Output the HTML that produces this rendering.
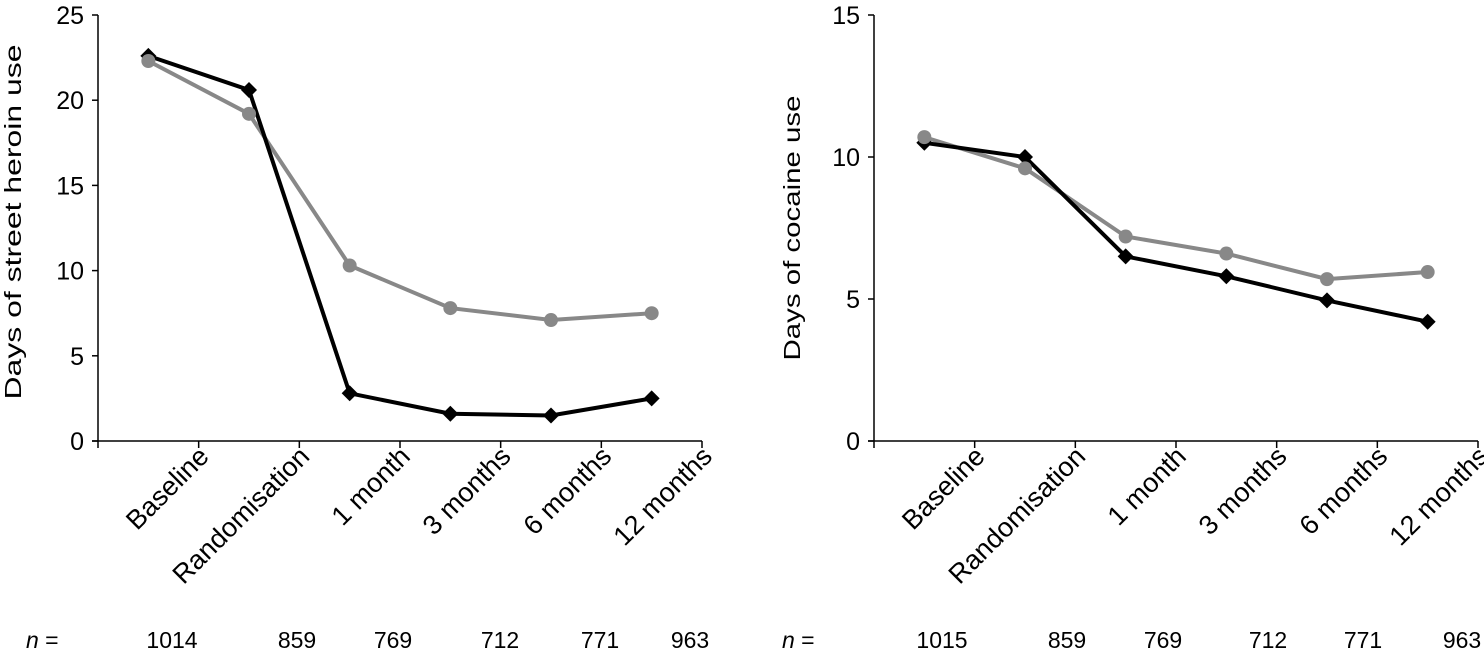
<!DOCTYPE html>
<html><head><meta charset="utf-8"><style>
body{margin:0;background:#fff}
svg text{font-family:"Liberation Sans",sans-serif;fill:#000}
</style></head><body>
<svg id="c" width="1484" height="655" xmlns="http://www.w3.org/2000/svg"></svg>
<script>
const categories=["Baseline","Randomisation","1 month","3 months","6 months","12 months"];
const heroinBlack=[22.6,20.6,2.8,1.6,1.5,2.5];
const heroinGrey=[22.3,19.2,10.3,7.8,7.1,7.5];
const cocaineBlack=[10.5,10.0,6.5,5.8,4.95,4.2];
const cocaineGrey=[10.7,9.6,7.2,6.6,5.7,5.95];
const heroinTicks=[0,5,10,15,20,25];
const cocaineTicks=[0,5,10,15];
const heroinN=["1014","859","769","712","771","963"];
const cocaineN=["1015","859","769","712","771","963"];
const svg=document.getElementById('c');
const NS="http://www.w3.org/2000/svg";
function mk(t,a,p){const e=document.createElementNS(NS,t);for(const k in a)e.setAttribute(k,a[k]);(p||svg).appendChild(e);return e;}
function panel(o){
  const g=mk('g',{});
  
  
  const step=(o.x1-o.x0)/categories.length;
  const xs=i=>o.x0+step*(i+0.5);
  const ys=v=>o.yb-(v/o.max)*(o.yb-o.yt);
  const ya=mk('line',{x1:o.x0,y1:o.yt,x2:o.x0,y2:o.yb,stroke:'#000','stroke-width':1.5},g);
  
  const xa=mk('line',{x1:o.x0-6,y1:o.yb,x2:o.x1,y2:o.yb,stroke:'#000','stroke-width':1.5},g);
  
  o.ticks.forEach(v=>{
    mk('line',{x1:o.x0-6,y1:ys(v),x2:o.x0,y2:ys(v),stroke:'#000','stroke-width':1.5},g);
    const t=mk('text',{x:o.x0-14,y:ys(v)+9,'text-anchor':'end','font-size':25},g);
    t.textContent=v;
    
  });
  for(let i=0;i<=categories.length;i++){
    mk('line',{x1:o.x0+step*i,y1:o.yb,x2:o.x0+step*i,y2:o.yb+7,stroke:'#000','stroke-width':1.5},g);
  }
  categories.forEach((c,i)=>{
    const x=xs(i)+62,y=458;
    const t=mk('text',{x:x,y:y,'text-anchor':'end','font-size':27,transform:`rotate(-45 ${x} ${y})`},g);
    t.textContent=c;
    
  });
  const cy=o.titleY;
  const yt=mk('text',{x:o.titleX,y:cy,'text-anchor':'middle','font-size':23,textLength:o.titleLen,lengthAdjust:'spacingAndGlyphs',transform:`rotate(-90 ${o.titleX} ${cy})`},g);
  yt.textContent=o.title;
  
  const nl=mk('text',{x:o.nX,y:648,'font-size':23},g);
  nl.innerHTML='<tspan font-style="italic">n</tspan> =';
  
  o.n.forEach((v,i)=>{
    const t=mk('text',{x:o.nPos[i],y:648,'text-anchor':'middle','font-size':23},g);
    t.textContent=v;
    
  });
  const pg=mk('polyline',{points:o.grey.map((v,i)=>xs(i)+','+ys(v)).join(' '),fill:'none',stroke:'#888','stroke-width':4},g);
  
  const pb=mk('polyline',{points:o.black.map((v,i)=>xs(i)+','+ys(v)).join(' '),fill:'none',stroke:'#000','stroke-width':4},g);
  
  o.black.forEach((v,i)=>{
    const x=xs(i),y=ys(v);
    const d=mk('polygon',{points:`${x},${y-8} ${x+8},${y} ${x},${y+8} ${x-8},${y}`,fill:'#000'},g);
    
  });
  o.grey.forEach((v,i)=>{
    const c=mk('circle',{cx:xs(i),cy:ys(v),r:7,fill:'#888'},g);
    
  });
}
panel({name:'heroin-panel',x0:98,x1:702,yt:15,yb:441,max:25,ticks:heroinTicks,black:heroinBlack,grey:heroinGrey,title:'Days of street heroin use',titleX:21,titleY:222,titleLen:355,n:heroinN,nX:26,nPos:[172,297,393,500,600,690]});
panel({name:'cocaine-panel',x0:874,x1:1478,yt:15,yb:441,max:15,ticks:cocaineTicks,black:cocaineBlack,grey:cocaineGrey,title:'Days of cocaine use',titleX:800,titleY:228,titleLen:265,n:cocaineN,nX:782,nPos:[942,1067,1163,1268,1363,1462]});
</script>
</body></html>
